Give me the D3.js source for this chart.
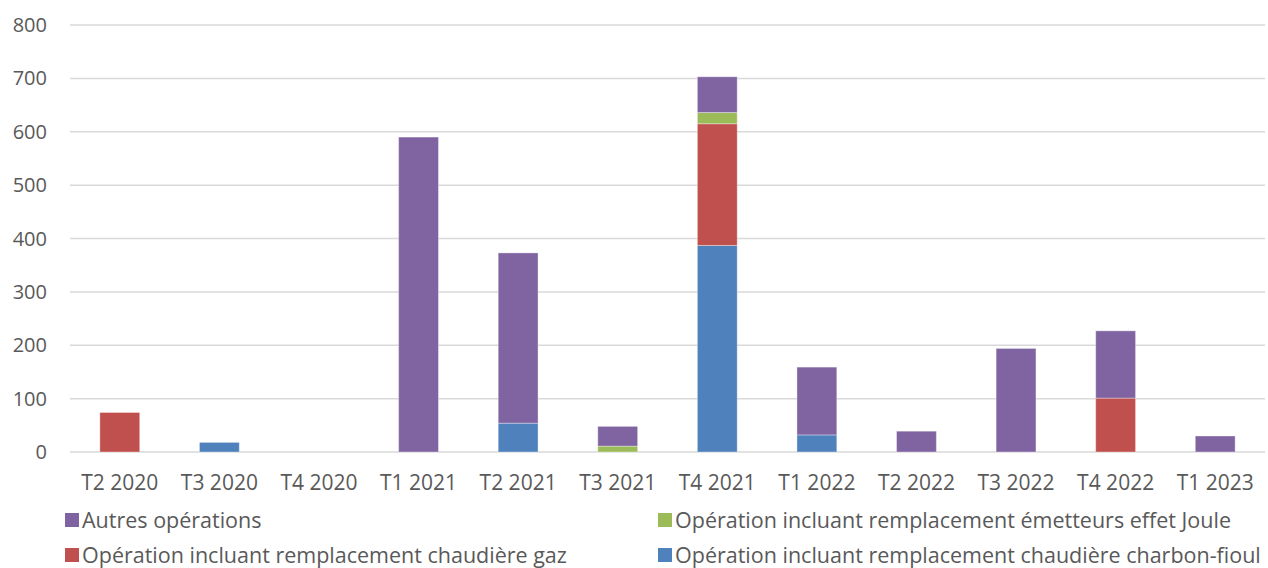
<!DOCTYPE html>
<html>
<head>
<meta charset="utf-8">
<script src="https://cdn.jsdelivr.net/npm/d3@7"></script>
<style>
  body { margin: 0; background: #fff; }
  text { font-family: "Open Sans", "Liberation Sans", sans-serif; fill: #595959; }
</style>
</head>
<body>
<svg id="chart" width="1268" height="568"></svg>
<script>
// quarters on the x axis
var quarters = ['T2 2020', 'T3 2020', 'T4 2020', 'T1 2021', 'T2 2021', 'T3 2021',
                'T4 2021', 'T1 2022', 'T2 2022', 'T3 2022', 'T4 2022', 'T1 2023'];

// series values
var charbonFioul = [0, 18, 0, 0, 54, 0, 387, 32, 0, 0, 0, 0];
var chaudiereGaz = [74, 0, 0, 0, 0, 0, 228, 0, 0, 0, 101, 0];
var effetJoule   = [0, 0, 0, 0, 0, 11, 21, 0, 0, 0, 0, 0];
var autres       = [0, 0, 0, 590, 319, 37, 67, 127, 39, 194, 126, 30];

var yTicks = [0, 100, 200, 300, 400, 500, 600, 700, 800];

var seriesNames = ['Autres opérations',
                   'Opération incluant remplacement émetteurs effet Joule',
                   'Opération incluant remplacement chaudière gaz',
                   'Opération incluant remplacement chaudière charbon-fioul'];

var colors = {
  charbon: '#4f81bd',
  gaz: '#c0504d',
  joule: '#9bbb59',
  autres: '#8064a2'
};

// build rows for the stack
var rows = quarters.map(function(q, i){
  return {q: q, charbon: charbonFioul[i], gaz: chaudiereGaz[i], joule: effetJoule[i], autres: autres[i]};
});

var keys = ['charbon', 'gaz', 'joule', 'autres'];
var stacked = d3.stack().keys(keys)(rows);

var svg = d3.select('#chart');
var plot = {left: 70, right: 1265, top: 25, bottom: 452};

var x = d3.scaleBand().domain(quarters).range([plot.left, plot.right]).paddingInner(0.6).paddingOuter(0.3);
var y = d3.scaleLinear().domain([0, 800]).range([plot.bottom, plot.top]);

// gridlines
svg.append('g')
  .selectAll('line')
  .data(yTicks)
  .enter()
  .append('line')
  .attr('x1', plot.left)
  .attr('x2', plot.right)
  .attr('y1', function(d){ return y(d); })
  .attr('y2', function(d){ return y(d); })
  .attr('stroke', '#d9d9d9')
  .attr('stroke-width', 1.5);

// y labels
svg.append('g')
  .selectAll('text')
  .data(yTicks)
  .enter()
  .append('text')
  .attr('x', 47)
  .attr('y', function(d){ return y(d); })
  .attr('dy', '0.35em')
  .attr('text-anchor', 'end')
  .style('font-size', '20px')
  .text(function(d){ return d; });

// bars
svg.append('g')
  .selectAll('g')
  .data(stacked)
  .enter()
  .append('g')
  .attr('fill', function(d){ return colors[d.key]; })
  .selectAll('rect')
  .data(function(d){ return d.filter(function(s){ return s[1] - s[0] > 0; }); })
  .enter()
  .append('rect')
  .attr('x', function(d){ return x(d.data.q); })
  .attr('width', x.bandwidth())
  .attr('y', function(d){ return y(d[1]); })
  .attr('height', function(d){ return y(d[0]) - y(d[1]); })
  .attr('stroke', '#ffffff')
  .attr('stroke-opacity', 0.35)
  .attr('stroke-width', 1);

// x labels
svg.append('g')
  .selectAll('text')
  .data(quarters)
  .enter()
  .append('text')
  .attr('x', function(d){ return x(d) + x.bandwidth() / 2; })
  .attr('y', 483)
  .attr('dy', '0.35em')
  .attr('text-anchor', 'middle')
  .style('font-size', '21px')
  .text(function(d){ return d; });

// legend, two columns
var legendItems = [
  {name: seriesNames[0], color: colors.autres, x: 65, y: 520},
  {name: seriesNames[1], color: colors.joule, x: 658, y: 520},
  {name: seriesNames[2], color: colors.gaz, x: 65, y: 555},
  {name: seriesNames[3], color: colors.charbon, x: 658, y: 555}
];

var leg = svg.append('g')
  .selectAll('g')
  .data(legendItems)
  .enter()
  .append('g')
  .attr('transform', function(d){ return 'translate(' + d.x + ',' + d.y + ')'; });

leg.append('rect')
  .attr('x', 0)
  .attr('y', -7)
  .attr('width', 14)
  .attr('height', 14)
  .attr('fill', function(d){ return d.color; });

leg.append('text')
  .attr('x', 17)
  .attr('y', 0)
  .attr('dy', '0.35em')
  .style('font-size', '21.5px')
  .text(function(d){ return d.name; });
</script>
</body>
</html>
